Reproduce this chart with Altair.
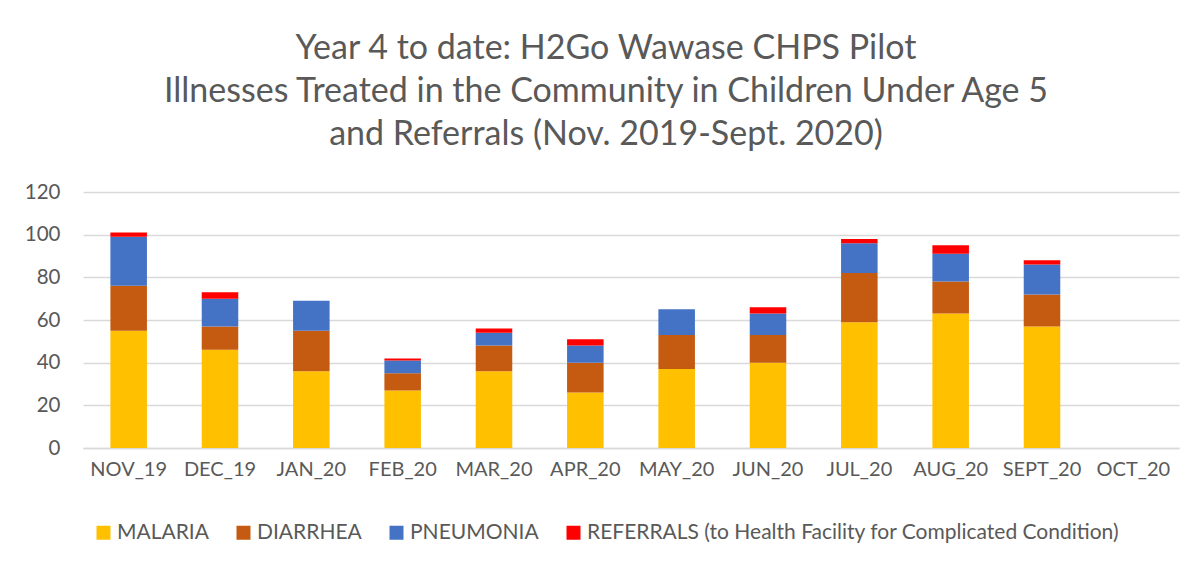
import altair as alt
import pandas as pd

months = ["NOV_19", "DEC_19", "JAN_20", "FEB_20", "MAR_20", "APR_20",
          "MAY_20", "JUN_20", "JUL_20", "AUG_20", "SEPT_20", "OCT_20"]
malaria = [55, 46, 36, 27, 36, 26, 37, 40, 59, 63, 57, 0]
diarrhea = [21, 11, 19, 8, 12, 14, 16, 13, 23, 15, 15, 0]
pneumonia = [23, 13, 14, 6, 6, 8, 12, 10, 14, 13, 14, 0]
referrals = [2, 3, 0, 1, 2, 3, 0, 3, 2, 4, 2, 0]

series = ["MALARIA", "DIARRHEA", "PNEUMONIA",
          "REFERRALS (to Health Facility for Complicated Condition)"]
colors = ["#FFC000", "#C55A11", "#4472C4", "#FF0000"]
y_ticks = [0, 20, 40, 60, 80, 100, 120]
title_lines = ["Year 4 to date: H2Go Wawase CHPS Pilot",
               "Illnesses Treated in the Community in Children Under Age 5",
               "and Referrals (Nov. 2019-Sept. 2020)"]

rows = []
for i, m in enumerate(months):
    for k, (name, vals) in enumerate(zip(series, [malaria, diarrhea, pneumonia, referrals])):
        rows.append({"month": m, "series": name, "value": vals[i], "order": k})
df = pd.DataFrame(rows)

FONT = "Lato"
TXT = "#595959"

chart = alt.Chart(df).mark_bar().encode(
    x=alt.X("month:N", sort=months, title=None,
            scale=alt.Scale(paddingInner=0.6, paddingOuter=0.3),
            axis=alt.Axis(labelAngle=0, ticks=False, domainColor="#D9D9D9",
                          domainWidth=1.3, labelPadding=11, labelFontSize=20,
                          labelFont=FONT, labelColor=TXT)),
    y=alt.Y("value:Q", stack="zero", title=None,
            scale=alt.Scale(domain=[0, 120], nice=False),
            axis=alt.Axis(values=y_ticks, ticks=False, domain=False,
                          gridColor="#D9D9D9", gridWidth=1.3, labelPadding=23,
                          labelFontSize=20.5, labelFont=FONT, labelColor=TXT)),
    color=alt.Color("series:N", sort=series,
                    scale=alt.Scale(domain=series, range=colors),
                    legend=alt.Legend(title=None, orient="none", direction="horizontal",
                                      legendX=10, legendY=330,
                                      symbolType="square", symbolSize=196,
                                      symbolStrokeWidth=0, labelFontSize=21,
                                      labelFont=FONT, labelColor=TXT,
                                      labelOffset=3, columnPadding=24,
                                      labelLimit=1000)),
    order=alt.Order("order:Q", sort="ascending"),
).properties(
    width=1096, height=256,
    title=alt.TitleParams(text=title_lines, fontSize=34, font=FONT, color=TXT,
                          fontWeight="normal", lineHeight=43, anchor="middle",
                          frame="group", offset=30, dx=-25),
    padding={"left": 75, "top": 184, "right": 15, "bottom": 113},
    autosize=alt.AutoSizeParams(type="none"),
).configure_view(stroke=None)

chart.save("out.html", embed_options={"renderer": "svg", "actions": False})
